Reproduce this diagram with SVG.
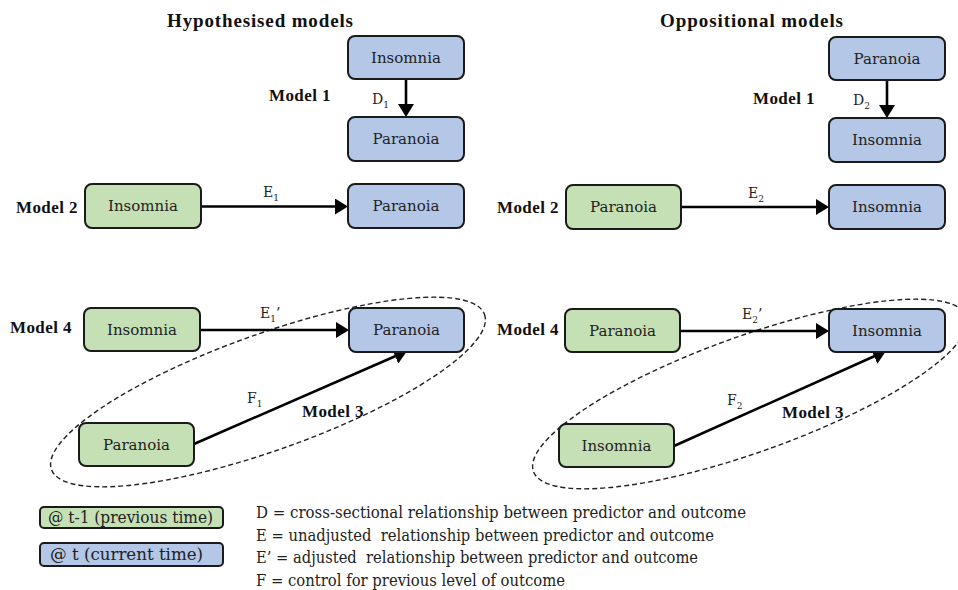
<svg xmlns="http://www.w3.org/2000/svg" width="958" height="590" viewBox="0 0 958 590">
<defs>
<style>
.bg{fill:#ffffff}
.box{stroke:#1a1a1a;stroke-width:2}
.blue{fill:#b4c7e7}
.green{fill:#c5e0b4}
.nt{font-family:"DejaVu Serif",serif;font-size:15px;fill:#222;text-anchor:middle}
.title{font-family:"Liberation Serif","Times New Roman",serif;font-size:19px;font-weight:bold;fill:#111}
.ml{font-family:"Liberation Serif","Times New Roman",serif;font-size:17px;font-weight:bold;fill:#111;letter-spacing:0.4px}
.lab{font-family:"DejaVu Serif",serif;font-size:14px;fill:#222}
.sub{font-size:9px}
.arr{stroke:#000;stroke-width:2.6;fill:none;marker-end:url(#ah)}
.ell{fill:none;stroke:#222;stroke-width:1.4;stroke-dasharray:5 3}
.leg{font-family:"DejaVu Serif",serif;font-size:16px;fill:#222}
</style>
<marker id="ah" markerUnits="userSpaceOnUse" markerWidth="13" markerHeight="16" viewBox="0 0 13 16" refX="5" refY="8" orient="auto">
<path d="M0,0 L13,8 L0,16 z" fill="#000"/>
</marker>
</defs>
<rect class="bg" x="0" y="0" width="958" height="590"/>

<text class="title" x="167" y="27" textLength="186">Hypothesised models</text>
<text class="title" x="660" y="27" textLength="183">Oppositional models</text>

<g id="ellipses">
<ellipse class="ell" cx="268" cy="392" rx="230" ry="58" transform="rotate(-19.7 268 392)"/>
<ellipse class="ell" cx="750" cy="394" rx="230" ry="58" transform="rotate(-19.7 750 394)"/>
</g>

<g id="connectors">
<line class="arr" x1="406" y1="79" x2="406" y2="109"/>
<line class="arr" x1="887" y1="80" x2="887" y2="110"/>
<line class="arr" x1="201" y1="206.5" x2="340" y2="206.5"/>
<line class="arr" x1="681" y1="207" x2="821" y2="207"/>
<line class="arr" x1="200" y1="330" x2="341" y2="330"/>
<line class="arr" x1="680" y1="331" x2="821" y2="331"/>
<line class="arr" x1="194" y1="444" x2="399.7" y2="354.2"/>
<line class="arr" x1="674" y1="446" x2="878.7" y2="354.3"/>
</g>

<g id="labels">
<text class="lab" x="372" y="104">D<tspan class="sub" dy="4">1</tspan></text>
<text class="lab" x="853" y="105">D<tspan class="sub" dy="4">2</tspan></text>
<text class="lab" x="263" y="197">E<tspan class="sub" dy="4">1</tspan></text>
<text class="lab" x="748" y="198">E<tspan class="sub" dy="4">2</tspan></text>
<text class="lab" x="260" y="318">E<tspan class="sub" dy="4">1</tspan><tspan dy="-4">’</tspan></text>
<text class="lab" x="742" y="319">E<tspan class="sub" dy="4">2</tspan><tspan dy="-4">’</tspan></text>
<text class="lab" x="247" y="403">F<tspan class="sub" dy="4">1</tspan></text>
<text class="lab" x="727" y="405">F<tspan class="sub" dy="4">2</tspan></text>
<text class="ml" x="269" y="101">Model 1</text>
<text class="ml" x="753" y="104">Model 1</text>
<text class="ml" x="16" y="213">Model 2</text>
<text class="ml" x="497" y="213">Model 2</text>
<text class="ml" x="10" y="333">Model 4</text>
<text class="ml" x="497" y="335">Model 4</text>
<text class="ml" x="302" y="417">Model 3</text>
<text class="ml" x="782" y="418">Model 3</text>
</g>

<g id="L1a"><rect class="box blue" x="348" y="36" width="116" height="43" rx="7"/><text class="nt" x="406" y="63">Insomnia</text></g>
<g id="L1b"><rect class="box blue" x="348" y="117" width="116" height="44" rx="7"/><text class="nt" x="406" y="144">Paranoia</text></g>
<g id="L2a"><rect class="box green" x="85" y="184" width="116" height="44" rx="7"/><text class="nt" x="143" y="211">Insomnia</text></g>
<g id="L2b"><rect class="box blue" x="348" y="184" width="116" height="44" rx="7"/><text class="nt" x="406" y="211">Paranoia</text></g>
<g id="L4a"><rect class="box green" x="84" y="308" width="116" height="43" rx="7"/><text class="nt" x="142" y="335">Insomnia</text></g>
<g id="L4b"><rect class="box blue" x="349" y="308" width="115" height="44" rx="7"/><text class="nt" x="406.5" y="335">Paranoia</text></g>
<g id="L3a"><rect class="box green" x="79" y="423" width="115" height="43" rx="7"/><text class="nt" x="136.5" y="450">Paranoia</text></g>

<g id="R1a"><rect class="box blue" x="829" y="37" width="116" height="43" rx="7"/><text class="nt" x="887" y="64">Paranoia</text></g>
<g id="R1b"><rect class="box blue" x="829" y="118" width="116" height="44" rx="7"/><text class="nt" x="887" y="145">Insomnia</text></g>
<g id="R2a"><rect class="box green" x="566" y="185" width="115" height="44" rx="7"/><text class="nt" x="623.5" y="212">Paranoia</text></g>
<g id="R2b"><rect class="box blue" x="829" y="185" width="116" height="44" rx="7"/><text class="nt" x="887" y="212">Insomnia</text></g>
<g id="R4a"><rect class="box green" x="565" y="309" width="115" height="43" rx="7"/><text class="nt" x="622.5" y="336">Paranoia</text></g>
<g id="R4b"><rect class="box blue" x="829" y="309" width="116" height="43" rx="7"/><text class="nt" x="887" y="336">Insomnia</text></g>
<g id="R3a"><rect class="box green" x="559" y="424" width="115" height="43" rx="7"/><text class="nt" x="616.5" y="451">Insomnia</text></g>

<g id="legend">
<rect class="box green" x="40" y="507" width="183" height="21" rx="4"/>
<text class="leg" x="48" y="523" textLength="165" lengthAdjust="spacingAndGlyphs">@ t-1 (previous time)</text>
<rect class="box blue" x="40" y="543" width="183" height="23" rx="4"/>
<text class="leg" x="50" y="560" textLength="153" lengthAdjust="spacingAndGlyphs">@ t (current time)</text>
<text class="leg" x="256" y="518" textLength="490" lengthAdjust="spacingAndGlyphs">D = cross-sectional relationship between predictor and outcome</text>
<text class="leg" x="256" y="541" textLength="458" lengthAdjust="spacingAndGlyphs" xml:space="preserve">E = unadjusted  relationship between predictor and outcome</text>
<text class="leg" x="256" y="563" textLength="442" lengthAdjust="spacingAndGlyphs" xml:space="preserve">E’ = adjusted  relationship between predictor and outcome</text>
<text class="leg" x="256" y="586" textLength="309" lengthAdjust="spacingAndGlyphs">F = control for previous level of outcome</text>
</g>
</svg>
